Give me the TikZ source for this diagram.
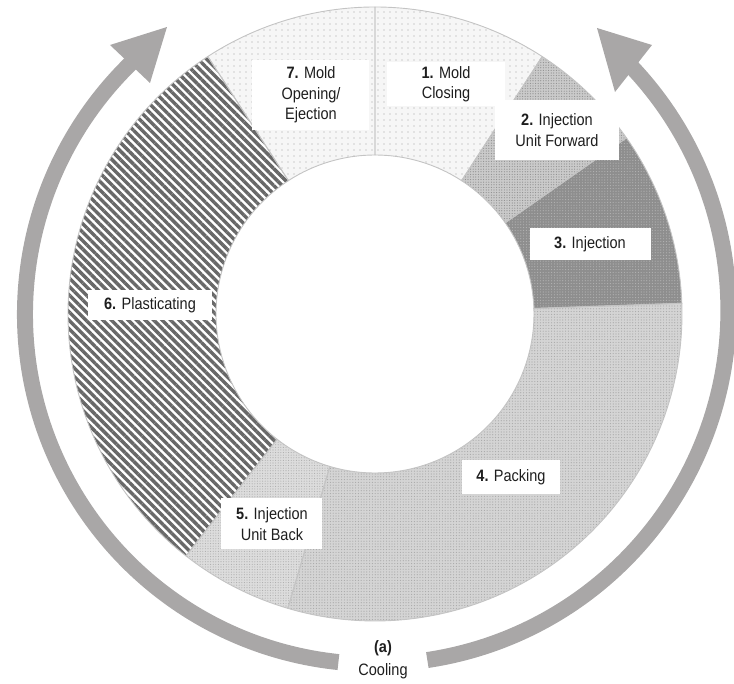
\documentclass[tikz,border=0pt]{standalone}
\usepackage{fontspec}
\setmainfont{Liberation Sans}[FakeStretch=0.88]
\usetikzlibrary{patterns.meta}
\definecolor{arrowgray}{HTML}{A9A7A7}
\definecolor{edgegray}{HTML}{C4C4C4}
\definecolor{cA}{HTML}{F6F6F6}
\definecolor{cAdot}{HTML}{A0A0A0}
\definecolor{cB}{HTML}{CACACA}
\definecolor{cBdot}{HTML}{8E8E8E}
\definecolor{cC}{HTML}{8E8E8E}
\definecolor{cCdot}{HTML}{B4B4B4}
\definecolor{cD}{HTML}{D4D4D4}
\definecolor{cDdot}{HTML}{A8A8A8}
\definecolor{cE}{HTML}{DCDCDC}
\definecolor{cEdot}{HTML}{ACACAC}
\definecolor{cF}{HTML}{686868}
\definecolor{txt}{HTML}{1E1E1E}
\newcommand\donutseg[2]{(#1:307) arc[start angle=#1,end angle=#2,radius=307] -- (#2:159) arc[start angle=#2,end angle=#1,radius=159] -- cycle}
\tikzset{
  x=1pt,y=1pt,
  segA/.style={preaction={fill=cA}, pattern={Dots[distance=6pt,radius=0.55pt]}, pattern color=cAdot},
  segB/.style={preaction={fill=cB}, pattern={Dots[distance=2.6pt,radius=0.6pt]}, pattern color=cBdot},
  segC/.style={preaction={fill=cC}, pattern={Dots[distance=2.8pt,radius=0.6pt]}, pattern color=cCdot},
  segD/.style={preaction={fill=cD}, pattern={Dots[distance=2.8pt,radius=0.6pt]}, pattern color=cDdot},
  segE/.style={preaction={fill=cE}, pattern={Dots[distance=2.6pt,radius=0.55pt]}, pattern color=cEdot},
  segF/.style={preaction={fill=white}, pattern={Lines[angle=-45,distance=6pt,line width=3.4pt]}, pattern color=cF},
  segedge/.style={draw=edgegray, line width=0.9pt},
  lbl/.style={fill=white, align=center, inner sep=0pt, text=txt, font=\fontsize{16.5}{20.5}\selectfont},
  cyclearc/.style={draw=arrowgray, line width=16pt},
  cyclehead/.style={fill=arrowgray},
}
\begin{document}
\begin{tikzpicture}
\useasboundingbox (-375,-370) rectangle (359,314);
% ring segments
\path[segA] \donutseg{57}{90};
\path[segB] \donutseg{35}{57};
\path[segC] \donutseg{2}{35};
\path[segD] \donutseg{-106.5}{2};
\path[segE] \donutseg{-128}{-106.5};
\path[segF] \donutseg{123}{232};
\path[segA] \donutseg{90}{123};
\foreach \a/\b in {57/90,35/57,2/35,-106.5/2,-128/-106.5,123/232,90/123}{
  \path[segedge] \donutseg{\a}{\b};
}
% labels
\node[lbl, minimum width=117, minimum height=44] (s1) at (71,230) {\textbf{1.} Mold\\Closing};
\node[lbl, minimum width=124, minimum height=60] (s2) at (182,184) {\textbf{2.} Injection\\Unit Forward};
\node[lbl, minimum width=121, minimum height=32] (s3) at (215,70) {\textbf{3.} Injection};
\node[lbl, minimum width=98, minimum height=34] (s4) at (136,-163) {\textbf{4.} Packing};
\node[lbl, minimum width=101, minimum height=51] (s5) at (-103,-210) {\textbf{5.} Injection\\Unit Back};
\node[lbl, minimum width=124, minimum height=30] (s6) at (-225,9) {\textbf{6.} Plasticating};
\node[lbl, minimum width=117, minimum height=70] (s7) at (-64,219) {\textbf{7.} Mold\\Opening/\\Ejection};
% cooling cycle arrows
\draw[cyclearc] (264:350) arc[start angle=264, end angle=133.6, radius=350];
\fill[cyclehead] (-208,287) -- (-265,269) -- (-225,231) -- cycle;
\draw[cyclearc] (-81.4:350) arc[start angle=-81.4, end angle=44.2, radius=354];
\fill[cyclehead] (222,286) -- (277,269) -- (240,222) -- cycle;
\node[lbl, fill=none, font=\fontsize{16.5}{20.5}\selectfont\bfseries] (lab) at (8,-334) {(a)};
\node[lbl, fill=none] (cool) at (8,-357) {Cooling};
\end{tikzpicture}
\end{document}
